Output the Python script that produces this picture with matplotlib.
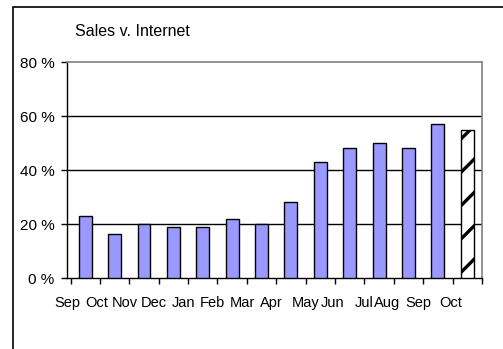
import matplotlib.pyplot as plt
from matplotlib.patches import Rectangle

plt.rcParams['font.family'] = ['Liberation Sans', 'DejaVu Sans']
plt.rcParams['hatch.linewidth'] = 2.4

# data
months = ['Sep', 'Oct', 'Nov', 'Dec', 'Jan', 'Feb', 'Mar',
          'Apr', 'May', 'Jun', 'Jul', 'Aug', 'Sep', 'Oct']
share = [23, 16.3, 20, 18.8, 18.8, 21.7, 20, 28, 43.1, 48, 50.1, 48, 57.1, 55]
yticks = [0, 20, 40, 60, 80]

# where the month labels sit (they are not centred on the bars)
label_pos = [-0.62, 0.39, 1.34, 2.32, 3.35, 4.31, 5.34,
             6.33, 7.51, 8.41, 9.50, 10.28, 11.32, 12.44]

fig = plt.figure(figsize=(5.03, 3.49), dpi=100)
W, H = 503, 349

# outer chart frame (only left and top show)
frame = Rectangle((13 / W, -0.1), 1.2, (349 - 6.7) / H + 0.1,
                  transform=fig.transFigure, fill=False,
                  edgecolor='black', linewidth=1.2)
fig.patches.append(frame)

ax = fig.add_axes([67 / W, (349 - 278) / H, 415 / W, 216 / H])

x = list(range(len(share)))
bars = ax.bar(x, share, width=0.44, color='#9999ff', edgecolor='black',
              linewidth=1.0, zorder=3)
# the last bar is hatched
bars[-1].set_facecolor('white')
bars[-1].set_hatch('/')

ax.set_xlim(-0.5, len(share) - 0.5)
ax.set_ylim(0, 80)

# gridlines
for v in yticks[1:-1]:
    ax.axhline(v, color='black', linewidth=1.0, zorder=1)

ax.spines['top'].set_color('#808080')
ax.spines['right'].set_color('#808080')
ax.spines['top'].set_linewidth(1.2)
ax.spines['right'].set_linewidth(1.2)
ax.spines['left'].set_linewidth(1.0)
ax.spines['bottom'].set_linewidth(1.0)

ax.set_yticks(yticks)
ax.set_yticklabels([f'{v} %' for v in yticks], fontsize=11)
ax.tick_params(axis='y', direction='out', length=4, width=1, pad=5)

# boundary ticks, labels on minor ticks
ax.xaxis.remove_overlapping_locs = False
ax.set_xticks([i - 0.5 for i in range(len(share) + 1)])
ax.set_xticklabels([])
ax.set_xticks(label_pos, minor=True)
ax.set_xticklabels(months, minor=True, fontsize=10.5)
ax.tick_params(axis='x', which='major', direction='out', length=4, width=1)
ax.tick_params(axis='x', which='minor', length=0, pad=13)

fig.text(75 / W, 1 - 31.5 / H, 'Sales v. Internet', fontsize=11.5,
         ha='left', va='center')

fig.savefig('out.png', dpi=100)
